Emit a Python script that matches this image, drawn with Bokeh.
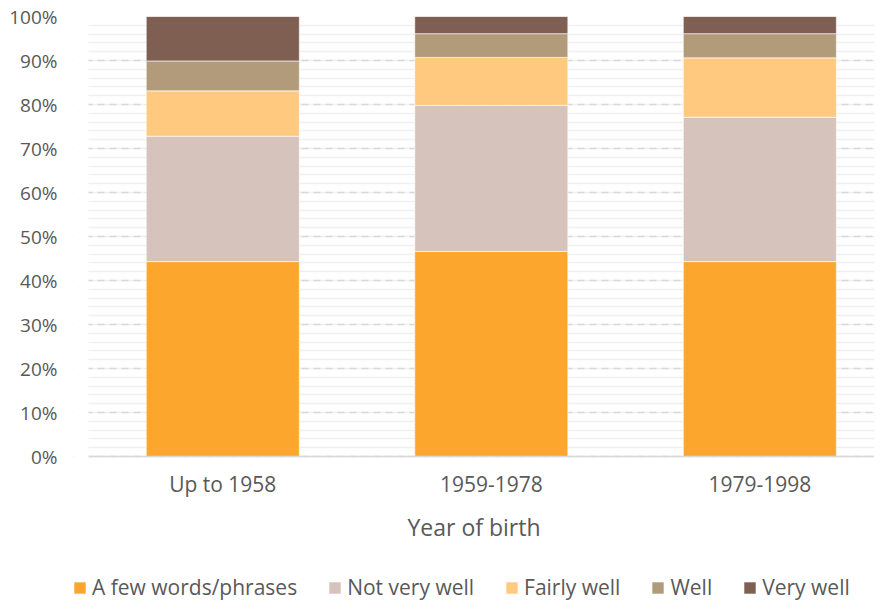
from bokeh.plotting import figure
from bokeh.models import (Range1d, FixedTicker, PrintfTickFormatter, Legend, LegendItem,
                          BoxAnnotation)
from bokeh.embed import file_html
from bokeh.resources import INLINE

categories = ["Up to 1958", "1959-1978", "1979-1998"]
series = ["A few words/phrases", "Not very well", "Fairly well", "Well", "Very well"]
few_words = [44.3, 46.6, 44.3]
not_very_well = [28.5, 33.2, 32.8]
fairly_well = [10.3, 10.9, 13.5]
well = [6.8, 5.4, 5.5]
very_well = [10.1, 3.9, 3.9]
colors = ["#FCA62E", "#D6C4BC", "#FFC97F", "#B29B7B", "#7E5F51"]
y_ticks = list(range(0, 101, 10))
y_minor = list(range(0, 101, 2))

xs = [i + 0.5 for i in range(len(categories))]
data = {"x": xs}
keys = ["s0", "s1", "s2", "s3", "s4"]
for k, vals in zip(keys, [few_words, not_very_well, fairly_well, well, very_well]):
    data[k] = vals

FONT = "Open Sans"
TXT = "#595959"

# layout: 440 px for 0..100 %, 145 px below 0 for labels, title and legend;
# 15 px of frame left of the first category so the legend's first key is not clipped
PX_PER_UNIT_Y = 4.4
PX_PER_CAT = 268.5
y_start = -145 / PX_PER_UNIT_Y
x_start = -15 / PX_PER_CAT

p = figure(width=874, height=601, output_backend="svg", toolbar_location=None,
           x_range=Range1d(x_start, 2.927), y_range=Range1d(y_start, 100),
           min_border_left=73, min_border_right=0, min_border_top=16, min_border_bottom=0,
           frame_width=801, frame_height=585)
p.outline_line_color = None
p.background_fill_color = "white"

renderers = p.vbar_stack(keys, x="x", width=0.57, source=data, color=colors,
                         line_color="white", line_width=0.6)

# y axis
p.yaxis.ticker = FixedTicker(ticks=y_ticks, minor_ticks=y_minor)
p.yaxis.formatter = PrintfTickFormatter(format="%d%%")
p.yaxis.axis_line_color = None
p.yaxis.major_tick_line_color = None
p.yaxis.minor_tick_line_color = None
p.yaxis.major_label_standoff = 10
p.yaxis.major_label_text_font = FONT
p.yaxis.major_label_text_font_size = "19px"
p.yaxis.major_label_text_color = TXT

# x axis, pinned to y = 0
p.xaxis.fixed_location = 0
p.xaxis.ticker = FixedTicker(ticks=xs)
p.xaxis.major_label_overrides = {x: c for x, c in zip(xs, categories)}
p.xaxis.axis_line_color = "#D9D9D9"
p.xaxis.axis_line_width = 1.5
p.xaxis.major_tick_line_color = None
p.xaxis.minor_tick_line_color = None
p.xaxis.major_label_standoff = 7
p.xaxis.major_label_text_font = FONT
p.xaxis.major_label_text_font_size = "21px"
p.xaxis.major_label_text_color = TXT
p.xaxis.axis_label = "Year of birth"
p.xaxis.axis_label_text_font = FONT
p.xaxis.axis_label_text_font_size = "23px"
p.xaxis.axis_label_text_font_style = "normal"
p.xaxis.axis_label_text_color = TXT
p.xaxis.axis_label_standoff = 10

# grids
p.xgrid.grid_line_color = None
p.ygrid.grid_line_color = "#D9D9D9"
p.ygrid.grid_line_dash = "7 5"
p.ygrid.grid_line_width = 1.5
p.ygrid.minor_grid_line_color = "#F0F0F0"
p.ygrid.minor_grid_line_width = 1.5

# white mask over the strip left of the plotting area (keeps grid lines starting at x = 0)
p.add_layout(BoxAnnotation(right=0, fill_color="white", fill_alpha=1, line_color=None))

items = [LegendItem(label=s, renderers=[r]) for s, r in zip(series, renderers)]
legend = Legend(items=items, orientation="horizontal", location=(-1, 0),
                glyph_width=15, glyph_height=15, label_standoff=5, spacing=30,
                padding=0, margin=0, border_line_color=None, background_fill_alpha=0,
                label_text_font=FONT, label_text_font_size="21px", label_text_color=TXT,
                label_height=14)
p.add_layout(legend, "center")

open("out.html", "w").write(file_html(p, INLINE))
